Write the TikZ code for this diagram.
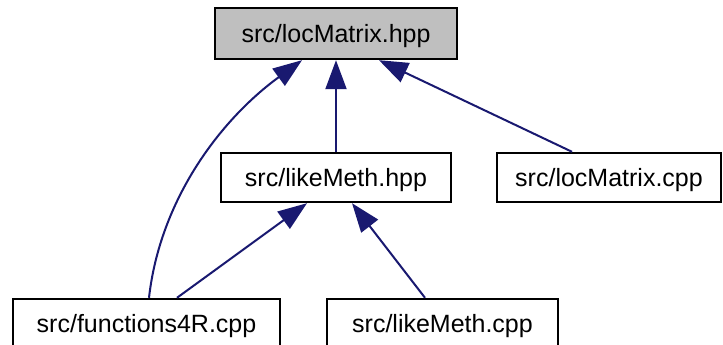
\documentclass[tikz,border=0pt]{standalone}
\usepackage{fontspec}
\setmainfont{Liberation Sans}
\usetikzlibrary{arrows.meta}
\definecolor{edgeblue}{HTML}{191970}
\definecolor{topgray}{HTML}{BFBFBF}
\begin{document}
\begin{tikzpicture}[x=1pt,y=-1pt,
  box/.style={draw=black, line width=2.4pt, fill=white, font=\fontsize{25}{30}\selectfont,
    text height=18pt, text depth=0pt, inner sep=0pt, minimum height=49pt},
  edge/.style={draw=edgeblue, line width=2pt, -{Triangle[length=29pt,width=21pt]}}]
\useasboundingbox (0,0) rectangle (723,345);
\node[box, fill=topgray, minimum width=242pt, minimum height=51pt] (top) at (336,33.5) {src/locMatrix.hpp};
\node[box, minimum width=230pt] (lmh) at (336,177.5) {src/likeMeth.hpp};
\node[box, minimum width=224pt] (lmc) at (609,177.5) {src/locMatrix.cpp};
\node[box, minimum width=267pt] (f4r) at (146.5,323.5) {src/functions4R.cpp};
\node[box, minimum width=231pt] (lmcpp) at (442.5,323.5) {src/likeMeth.cpp};
\draw[edge] ([xshift=2.5pt]f4r.north) .. controls (160,200) and (220,120) .. ([xshift=-34pt]top.south);
\draw[edge] (lmh) -- (top);
\draw[edge] ([xshift=-37pt]lmc.north) -- ([xshift=43pt]top.south);
\draw[edge] ([xshift=30.5pt]f4r.north) -- ([xshift=-29pt]lmh.south);
\draw[edge] ([xshift=-17.5pt]lmcpp.north) -- ([xshift=16pt]lmh.south);
\end{tikzpicture}
\end{document}
